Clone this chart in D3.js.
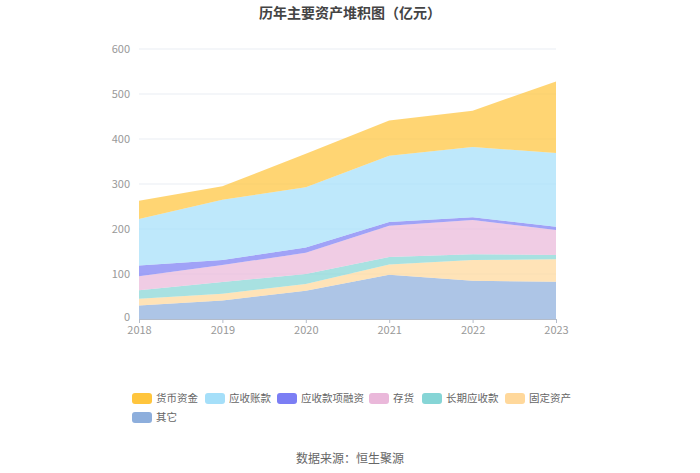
<!DOCTYPE html>
<html lang="zh">
<head>
<meta charset="UTF-8">
<script src="https://d3js.org/d3.v7.min.js"></script>
<style>
    body { margin: 0; background: #fff; }
    text { font-family: "Noto Sans CJK SC", "Noto Sans", sans-serif; }
</style>
<title>历年主要资产堆积图</title>
</head>
<body>
<div id="chart"></div>
<script>
// Data (亿元)
const years = ["2018", "2019", "2020", "2021", "2022", "2023"];
const cash = [41, 30, 74, 78, 81, 159];          // 货币资金
const receivables = [103, 134, 134, 147.5, 156, 164]; // 应收账款
const recFinancing = [24, 11, 12, 8.5, 6, 7];    // 应收款项融资
const inventory = [31, 38, 47, 69, 76, 56];      // 存货
const longTermRec = [19, 26, 22, 17, 13, 9];     // 长期应收款
const fixedAssets = [15, 15, 15, 22.5, 46, 50];  // 固定资产
const other = [30, 41, 63, 98.5, 85, 83];        // 其它
const yTicks = [0, 100, 200, 300, 400, 500, 600];

// legend order
const series = [
    { name: "货币资金", values: cash, color: "#FFC53D" },
    { name: "应收账款", values: receivables, color: "#A5DFF9" },
    { name: "应收款项融资", values: recFinancing, color: "#7B7EF4" },
    { name: "存货", values: inventory, color: "#EAB8DA" },
    { name: "长期应收款", values: longTermRec, color: "#86D5D6" },
    { name: "固定资产", values: fixedAssets, color: "#FFD89B" },
    { name: "其它", values: other, color: "#8DAEDC" }
];

const width = 700, height = 473;
const margin = { left: 139, right: 144, top: 49, bottom: 154 };

const svg = d3.select("#chart").append("svg")
    .attr("width", width)
    .attr("height", height);

// table for stacking
const table = years.map((y, i) => {
    const row = { year: y };
    series.forEach(s => row[s.name] = s.values[i]);
    return row;
});
const stackKeys = series.map(s => s.name).reverse();
const stacked = d3.stack().keys(stackKeys)(table);

// Scales
const xScale = d3.scalePoint()
    .domain(years)
    .range([margin.left, width - margin.right]);

const yScale = d3.scaleLinear()
    .domain([0, 600])
    .range([height - margin.bottom, margin.top]);

// Grid
svg.append("g")
    .selectAll("line")
    .data(yTicks.slice(1))
    .join("line")
    .attr("x1", margin.left)
    .attr("x2", width - margin.right)
    .attr("y1", d => yScale(d))
    .attr("y2", d => yScale(d))
    .attr("stroke", "#E9EDF3")
    .attr("stroke-width", 1);

// Areas
const area = d3.area()
    .x(d => xScale(d.data.year))
    .y0(d => yScale(d[0]))
    .y1(d => yScale(d[1]));

const colorOf = name => series.find(s => s.name === name).color;

svg.append("g")
    .selectAll("path")
    .data(stacked)
    .join("path")
    .attr("d", area)
    .attr("fill", d => colorOf(d.key))
    .attr("fill-opacity", 0.72);

// Y axis
const yAxis = d3.axisLeft(yScale).tickValues(yTicks).tickSize(0).tickPadding(9);
const gy = svg.append("g")
    .attr("transform", `translate(${margin.left},0)`)
    .call(yAxis);
gy.select(".domain").remove();
gy.selectAll("text").attr("fill", "#999").style("font-size", "11px");
// lift the "0" label a little so it clears the year labels
gy.selectAll(".tick text").filter(d => d === 0).attr("dy", "0.1em");

// X axis
const xAxis = d3.axisBottom(xScale).tickSize(4).tickPadding(3);
const gx = svg.append("g")
    .attr("transform", `translate(0,${height - margin.bottom})`)
    .call(xAxis);
gx.select(".domain").attr("stroke", "#B4BCC9");
gx.selectAll(".tick line").attr("stroke", "#B4BCC9");
gx.selectAll("text").attr("fill", "#999").style("font-size", "11px");

// Title
svg.append("text")
    .attr("x", width / 2)
    .attr("y", 18)
    .attr("text-anchor", "middle")
    .attr("fill", "#444")
    .style("font-size", "14px")
    .style("font-weight", "bold")
    .text("历年主要资产堆积图（亿元）");

// Legend
const legendX = [132, 205, 277, 369, 422, 505, 132];
const legendY = [398, 398, 398, 398, 398, 398, 417];
const legend = svg.append("g")
    .selectAll("g")
    .data(series)
    .join("g")
    .attr("transform", (d, i) => `translate(${legendX[i]},${legendY[i]})`);

legend.append("rect")
    .attr("x", 0)
    .attr("y", -5)
    .attr("width", 20)
    .attr("height", 11)
    .attr("rx", 3)
    .attr("fill", d => d.color);

legend.append("text")
    .attr("x", 24)
    .attr("y", 4)
    .attr("fill", "#666")
    .style("font-size", "10.5px")
    .text(d => d.name);

// Source
svg.append("text")
    .attr("x", width / 2)
    .attr("y", 463)
    .attr("text-anchor", "middle")
    .attr("fill", "#666")
    .style("font-size", "12px")
    .text("数据来源：恒生聚源");
</script>
</body>
</html>
